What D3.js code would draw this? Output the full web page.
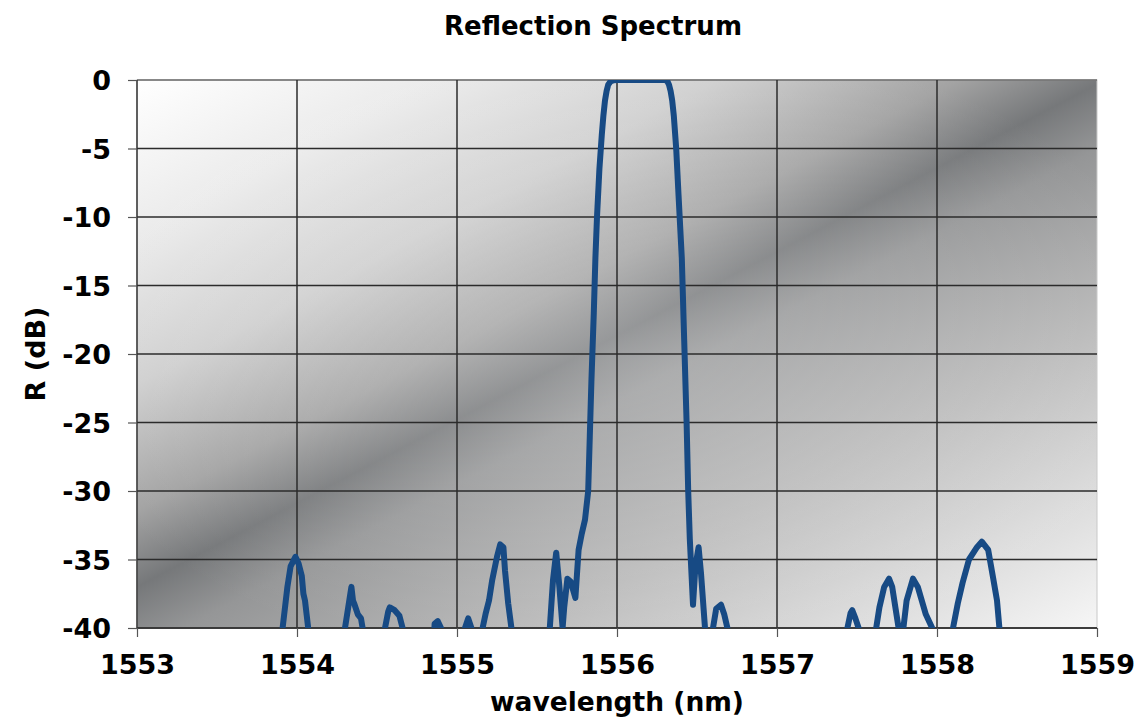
<!DOCTYPE html>
<html>
<head>
<meta charset="utf-8">
<script src="https://cdn.jsdelivr.net/npm/d3@7"></script>
<style>
  body { margin: 0; background: #fff; }
  svg { display: block; }
  text { font-family: "DejaVu Sans", Verdana, sans-serif; font-weight: bold; fill: #000; }
</style>
</head>
<body>
<div class="chart"></div>
<script>
var svgWidth = 1138;
var svgHeight = 724;

var margin = { top: 80, right: 41, bottom: 96, left: 137 };
var width = svgWidth - margin.left - margin.right;
var height = svgHeight - margin.top - margin.bottom;

// wavelength (nm) and reflection (dB); -45 = below the floor
var wavelength = [
  1553.00, 1553.90, 1553.91, 1553.94, 1553.96, 1553.99, 1554.01, 1554.03, 1554.04, 1554.05, 1554.06, 1554.07, 1554.08,
  1554.29, 1554.30, 1554.32, 1554.34, 1554.35, 1554.36, 1554.38, 1554.40, 1554.41, 1554.42,
  1554.54, 1554.55, 1554.57, 1554.58, 1554.61, 1554.64, 1554.66, 1554.67,
  1554.84, 1554.86, 1554.88, 1554.90, 1554.91,
  1555.04, 1555.05, 1555.07, 1555.09, 1555.10,
  1555.15, 1555.16, 1555.18, 1555.20, 1555.22, 1555.25, 1555.27, 1555.29, 1555.30, 1555.32, 1555.34, 1555.35,
  1555.57, 1555.58, 1555.60, 1555.62, 1555.64, 1555.66, 1555.67, 1555.69, 1555.71, 1555.74, 1555.76, 1555.78, 1555.80,
  1555.82, 1555.83, 1555.84, 1555.855, 1555.865, 1555.875, 1555.89, 1555.905, 1555.915, 1555.925, 1555.935, 1555.945, 1555.96, 1555.98, 1556.00,
  1556.30, 1556.315, 1556.325, 1556.335, 1556.345, 1556.355, 1556.37, 1556.385, 1556.405, 1556.42, 1556.435, 1556.445, 1556.455, 1556.475, 1556.49,
  1556.51, 1556.525, 1556.55, 1556.56,
  1556.59, 1556.60, 1556.62, 1556.65, 1556.67, 1556.69, 1556.70,
  1557.43, 1557.44, 1557.46, 1557.47, 1557.49, 1557.51, 1557.52,
  1557.61, 1557.62, 1557.64, 1557.67, 1557.70, 1557.72, 1557.74, 1557.76, 1557.78, 1557.79, 1557.81, 1557.85,
  1557.88, 1557.90, 1557.93, 1557.97, 1557.98,
  1558.09, 1558.10, 1558.13, 1558.16, 1558.20, 1558.25, 1558.28, 1558.32, 1558.35, 1558.375, 1558.39, 1558.40,
  1559.00
];
var reflection = [
  -45, -45, -40, -37, -35.5, -34.8, -35.3, -36.2, -37.5, -38, -39, -40, -45,
  -45, -40, -38.5, -37, -38, -38.3, -39, -39.3, -40, -45,
  -45, -40, -38.8, -38.5, -38.7, -39.1, -40, -45,
  -45, -39.7, -39.5, -40, -45,
  -45, -40, -39.3, -40, -45,
  -45, -40, -38.9, -38, -36.5, -34.8, -33.9, -34.1, -35.8, -38.2, -40, -45,
  -45, -40, -36.5, -34.5, -37, -40, -38.5, -36.4, -36.6, -37.8, -34.3, -33.1, -32.1,
  -30, -26, -22, -17, -13, -10, -6.5, -4, -2.6, -1.5, -0.8, -0.35, -0.1, -0.02, 0,
  0, -0.1, -0.35, -0.8, -1.5, -2.6, -5, -8.5, -13, -19, -25, -30, -33.5, -38.3, -35.5,
  -34.1, -36, -40, -45,
  -45, -40, -38.6, -38.3, -39, -40, -45,
  -45, -40, -38.9, -38.7, -39.3, -40, -45,
  -45, -40, -38.5, -37, -36.4, -37, -38.5, -40, -40, -40, -38, -36.4,
  -37, -37.8, -39, -40, -45,
  -45, -40, -38.2, -36.7, -35, -34.1, -33.7, -34.3, -36.3, -38, -40, -45,
  -45
];

var xTicks = [1553, 1554, 1555, 1556, 1557, 1558, 1559];
var yTicks = [0, -5, -10, -15, -20, -25, -30, -35, -40];

var spectrum = wavelength.map(function (w, i) { return { wl: w, r: reflection[i] }; });

var svg = d3.select(".chart")
  .append("svg")
  .attr("width", svgWidth)
  .attr("height", svgHeight);

var x_scale = d3.scaleLinear().domain([1553, 1559]).range([0, width]);
var y_scale = d3.scaleLinear().domain([-40, 0]).range([height, 0]);

// diagonal grey gradient of the plot area (dark band from lower left to upper right)
var defs = svg.append("defs");
var p0 = [x_scale(1553), y_scale(-37)];
var p1 = [x_scale(1559), y_scale(-0.3)];
var dx = p1[0] - p0[0], dy = p1[1] - p0[1];
var len = Math.sqrt(dx * dx + dy * dy);
var n = [-dy / len, dx / len];
if (n[1] < 0) { n = [-n[0], -n[1]]; }
var dTL = (0 - p0[0]) * n[0] + (0 - p0[1]) * n[1];
var dBR = (width - p0[0]) * n[0] + (height - p0[1]) * n[1];
var bandAt = -dTL / (dBR - dTL);

var grad = defs.append("linearGradient")
  .attr("id", "bg")
  .attr("gradientUnits", "userSpaceOnUse")
  .attr("x1", p0[0] + dTL * n[0]).attr("y1", p0[1] + dTL * n[1])
  .attr("x2", p0[0] + dBR * n[0]).attr("y2", p0[1] + dBR * n[1]);
[
  [0, "#ffffff"],
  [bandAt * 0.3, "#ececec"],
  [bandAt * 0.6, "#cfcfcf"],
  [bandAt * 0.85, "#a3a3a3"],
  [bandAt, "#76787a"],
  [bandAt + (1 - bandAt) * 0.12, "#959697"],
  [bandAt + (1 - bandAt) * 0.45, "#bababa"],
  [bandAt + (1 - bandAt) * 0.75, "#dcdcdc"],
  [1, "#f6f6f6"]
].forEach(function (s) {
  grad.append("stop").attr("offset", s[0]).attr("stop-color", s[1]);
});

// soft light in the middle so the band is darkest towards the corners
var glow = defs.append("radialGradient")
  .attr("id", "glow")
  .attr("cx", 0.5).attr("cy", 0.5).attr("r", 0.6);
glow.append("stop").attr("offset", 0).attr("stop-color", "#fff").attr("stop-opacity", 0.25);
glow.append("stop").attr("offset", 1).attr("stop-color", "#fff").attr("stop-opacity", 0);

defs.append("clipPath").attr("id", "plotClip")
  .append("rect").attr("width", width).attr("height", height);

var chartGroup = svg.append("g")
  .attr("transform", `translate(${margin.left}, ${margin.top})`);

chartGroup.append("rect")
  .attr("width", width)
  .attr("height", height)
  .attr("fill", "url(#bg)")
  .attr("stroke", "#c8c8c8")
  .attr("stroke-width", 1);

chartGroup.append("rect")
  .attr("width", width)
  .attr("height", height)
  .attr("fill", "url(#glow)");

// gridlines
chartGroup.append("g").selectAll("line")
  .data(yTicks)
  .enter()
  .append("line")
  .attr("x1", 0).attr("x2", width)
  .attr("y1", d => y_scale(d)).attr("y2", d => y_scale(d))
  .attr("stroke", d => d === 0 ? "#6a6a6a" : "#2b2b2b")
  .attr("stroke-width", 1.5);

chartGroup.append("g").selectAll("line")
  .data(xTicks.slice(1, -1))
  .enter()
  .append("line")
  .attr("y1", 0).attr("y2", height)
  .attr("x1", d => x_scale(d)).attr("x2", d => x_scale(d))
  .attr("stroke", "#2b2b2b")
  .attr("stroke-width", 1.5);

// axes
var bottomAxis = d3.axisBottom(x_scale).tickValues(xTicks).tickSize(9).tickPadding(18).tickFormat(d => String(d));
var leftAxis = d3.axisLeft(y_scale).tickValues(yTicks).tickSize(9).tickPadding(17).tickFormat(d => String(d));

var gx = chartGroup.append("g")
  .attr("transform", `translate(0, ${height})`)
  .call(bottomAxis);
var gy = chartGroup.append("g").call(leftAxis);

[gx, gy].forEach(function (g) {
  g.select(".domain").attr("stroke", "#333").attr("stroke-width", 1.5);
  g.selectAll(".tick line").attr("stroke", "#555").attr("stroke-width", 1.2);
  g.selectAll(".tick text")
    .attr("font-size", 27)
    .attr("font-family", "'DejaVu Sans', Verdana, sans-serif")
    .attr("font-weight", "bold")
    .attr("fill", "#000");
});
gx.select(".domain").attr("d", `M0,0H${width}`);
gy.select(".domain").attr("d", `M0,0V${height}`);
gy.selectAll(".tick text").attr("dy", "0.36em");

// spectrum trace
var line = d3.line()
  .x(d => x_scale(d.wl))
  .y(d => y_scale(d.r));

chartGroup.append("g")
  .attr("clip-path", "url(#plotClip)")
  .append("path")
  .datum(spectrum)
  .attr("d", line)
  .attr("fill", "none")
  .attr("stroke", "#174a84")
  .attr("stroke-width", 6)
  .attr("stroke-linejoin", "round")
  .attr("stroke-linecap", "round");

// titles
svg.append("text")
  .attr("x", 593)
  .attr("y", 35)
  .attr("text-anchor", "middle")
  .attr("font-size", 26)
  .text("Reflection Spectrum");

svg.append("text")
  .attr("x", margin.left + width / 2)
  .attr("y", 711)
  .attr("text-anchor", "middle")
  .attr("font-size", 26.5)
  .text("wavelength (nm)");

svg.append("text")
  .attr("transform", `translate(45, ${margin.top + height / 2}) rotate(-90)`)
  .attr("text-anchor", "middle")
  .attr("font-size", 27)
  .text("R (dB)");
</script>
</body>
</html>
